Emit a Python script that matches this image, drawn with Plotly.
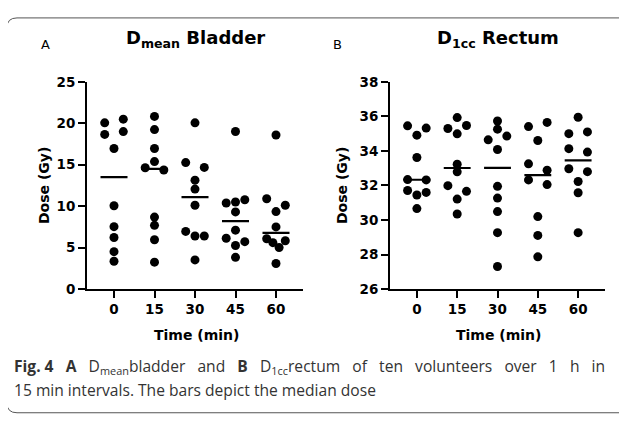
import numpy as np
import plotly.graph_objects as go

# ---------------- data ----------------
times = [0, 15, 30, 45, 60]
time_labels = ["0", "15", "30", "45", "60"]

# D_mean bladder (Gy), ten volunteers per time point
bladder_t0 = [20.05, 20.5, 18.66, 19.0, 16.96, 10.05, 7.53, 6.22, 4.52, 3.36]
bladder_t15 = [20.83, 19.24, 16.96, 14.64, 15.38, 14.37, 8.69, 7.69, 5.95, 3.25]
bladder_t30 = [20.05, 15.26, 14.68, 13.14, 12.06, 10.12, 6.96, 6.41, 6.41, 3.52]
bladder_t45 = [19.01, 10.39, 10.51, 10.78, 9.31, 7.11, 6.14, 5.26, 5.72, 3.83]
bladder_t60 = [18.59, 10.9, 9.35, 10.12, 7.5, 6.07, 5.6, 5.02, 5.83, 3.09]

# D_1cc rectum (Gy)
rectum_t0 = [35.45, 35.32, 34.91, 33.62, 32.34, 32.32, 31.71, 31.45, 31.6, 30.66]
rectum_t15 = [35.93, 35.3, 34.99, 35.47, 33.23, 32.79, 31.99, 31.66, 31.21, 30.35]
rectum_t30 = [35.73, 35.26, 34.64, 34.86, 34.08, 31.95, 31.27, 30.49, 29.27, 27.31]
rectum_t45 = [35.41, 35.65, 34.6, 33.25, 32.88, 32.32, 32.05, 30.2, 29.11, 27.87]
rectum_t60 = [35.95, 35.0, 35.1, 34.13, 33.93, 32.97, 32.8, 32.23, 31.58, 29.27]

bladder_ticks = [0, 5, 10, 15, 20, 25]
rectum_ticks = [26, 28, 30, 32, 34, 36, 38]

caption_line1 = ["<b>Fig. 4</b>", "<b>A</b>", "D<sub>mean</sub>bladder", "and", "<b>B</b>",
                 "D<sub>1cc</sub>rectum", "of", "ten", "volunteers", "over", "1", "h", "in"]
caption_line2 = "15 min intervals. The bars depict the median dose"

# ---------------- layout constants ----------------
PAGE_W, PAGE_H = 627, 423
OFF = 8                          # default body margin of the html page
W, H = PAGE_W - 2 * OFF, PAGE_H - 2 * OFF
FONT = "DejaVu Sans"
CAP_FONT = "Open Sans"


def px_x(p):
    return (p - OFF) / W


def px_y(p):
    return 1 - (p - OFF) / H


panels = [
    dict(groups=[bladder_t0, bladder_t15, bladder_t30, bladder_t45, bladder_t60],
         ticks=bladder_ticks, yr=[0, 25], x0=87, x1=303, xa="x", ya="y"),
    dict(groups=[rectum_t0, rectum_t15, rectum_t30, rectum_t45, rectum_t60],
         ticks=rectum_ticks, yr=[26, 38], x0=390, x1=605, xa="x2", ya="y2"),
]
Y_TOP, Y_BOT = 76.5, 292.3
XR = [-10, 70]
SLOT_PX = 9.3      # horizontal spacing of side-by-side dots
CLUSTER_PX = 6.9   # dots closer than this (vertically) share a row
MEDIAN_HALF = 5.0  # half-width of median bar in x units


def swarm_offsets(vals, ppu_y):
    """Column-scatter layout: points in a row are spread evenly over +-1 slot."""
    vals = np.asarray(vals, float)
    order = np.argsort(vals, kind="stable")
    clusters, cur = [], [order[0]]
    for a, b in zip(order[:-1], order[1:]):
        if (vals[b] - vals[a]) * ppu_y < CLUSTER_PX:
            cur.append(b)
        else:
            clusters.append(cur)
            cur = [b]
    clusters.append(cur)
    off = np.zeros(len(vals))
    for c in clusters:
        c = sorted(c)  # volunteer order
        if len(c) > 1:
            for i, s in zip(c, np.linspace(-1, 1, len(c))):
                off[i] = s
    return off


fig = go.Figure()
for p in panels:
    ppu_y = (Y_BOT - Y_TOP) / (p["yr"][1] - p["yr"][0])
    ppu_x = (p["x1"] - p["x0"]) / (XR[1] - XR[0])
    slot = SLOT_PX / ppu_x
    xs, ys, mx, my = [], [], [], []
    for t, g in zip(times, p["groups"]):
        off = swarm_offsets(g, ppu_y)
        xs += list(t + off * slot)
        ys += list(g)
        m = float(np.median(g))
        mx += [t - MEDIAN_HALF, t + MEDIAN_HALF, None]
        my += [m, m, None]
    fig.add_trace(go.Scatter(x=mx, y=my, mode="lines", line=dict(color="black", width=2.2),
                             xaxis=p["xa"], yaxis=p["ya"], hoverinfo="skip", showlegend=False))
    fig.add_trace(go.Scatter(x=xs, y=ys, mode="markers", marker=dict(color="black", size=9),
                             xaxis=p["xa"], yaxis=p["ya"], showlegend=False))

axis_common = dict(showline=True, linecolor="black", linewidth=2, ticks="outside",
                   ticklen=7, tickwidth=2, tickcolor="black", showgrid=False, zeroline=False,
                   tickfont=dict(family=FONT, size=13.5, color="black", weight="bold"))
ydom = [px_y(Y_BOT), px_y(Y_TOP)]

fig.update_layout(
    width=W, height=H, margin=dict(l=0, r=0, t=0, b=0),
    paper_bgcolor="white", plot_bgcolor="white",
    xaxis=dict(domain=[px_x(87), px_x(303)], range=XR, tickvals=times, ticktext=time_labels,
               anchor="y", **axis_common),
    yaxis=dict(domain=ydom, range=panels[0]["yr"], tickvals=bladder_ticks, anchor="x", **axis_common),
    xaxis2=dict(domain=[px_x(390), px_x(605)], range=XR, tickvals=times, ticktext=time_labels,
                anchor="y2", **axis_common),
    yaxis2=dict(domain=ydom, range=panels[1]["yr"], tickvals=rectum_ticks, anchor="x2", **axis_common),
)

ann = []


def add(text, x, y, size, family=FONT, color="black", xanchor="center", yanchor="middle", angle=0):
    ann.append(dict(text=text, x=px_x(x), y=px_y(y), xref="paper", yref="paper", showarrow=False,
                    xanchor=xanchor, yanchor=yanchor, textangle=angle,
                    font=dict(family=family, size=size, color=color)))


add("A", 45, 37.5, 13)
add("B", 337, 37.5, 13)
add("<b>D<sub>mean</sub> Bladder</b>", 195, 32, 18)
add("<b>D<sub>1cc</sub> Rectum</b>", 498, 32, 18)
add("<b>Dose (Gy)</b>", 44, 185, 14, angle=-90)
add("<b>Dose (Gy)</b>", 342, 185, 14, angle=-90)
add("<b>Time (min)</b>", 196, 340, 14)
add("<b>Time (min)</b>", 498, 340, 14)

# justified first caption line: widen the word gaps
gap = " " + "\u00a0" * 2
line1 = gap.join(caption_line1)
add(line1, 12, 373, 15.6, family=CAP_FONT, color="#333333", xanchor="left")
add(caption_line2, 12, 397, 15.6, family=CAP_FONT, color="#333333", xanchor="left")
fig.update_layout(annotations=ann)

# rounded frame around the figure (right side runs off the page)
L, T, R, B, r = 7, 10, 900, 421, 10
path = (f"M {px_x(R)},{px_y(T)} L {px_x(L + r)},{px_y(T)} "
        f"Q {px_x(L)},{px_y(T)} {px_x(L)},{px_y(T + r)} "
        f"L {px_x(L)},{px_y(B - r)} Q {px_x(L)},{px_y(B)} {px_x(L + r)},{px_y(B)} "
        f"L {px_x(R)},{px_y(B)}")
fig.update_layout(shapes=[dict(type="path", path=path, xref="paper", yref="paper",
                               line=dict(color="#555555", width=1))])

fig.write_html("out.html", config={"displayModeBar": False, "staticPlot": True})
